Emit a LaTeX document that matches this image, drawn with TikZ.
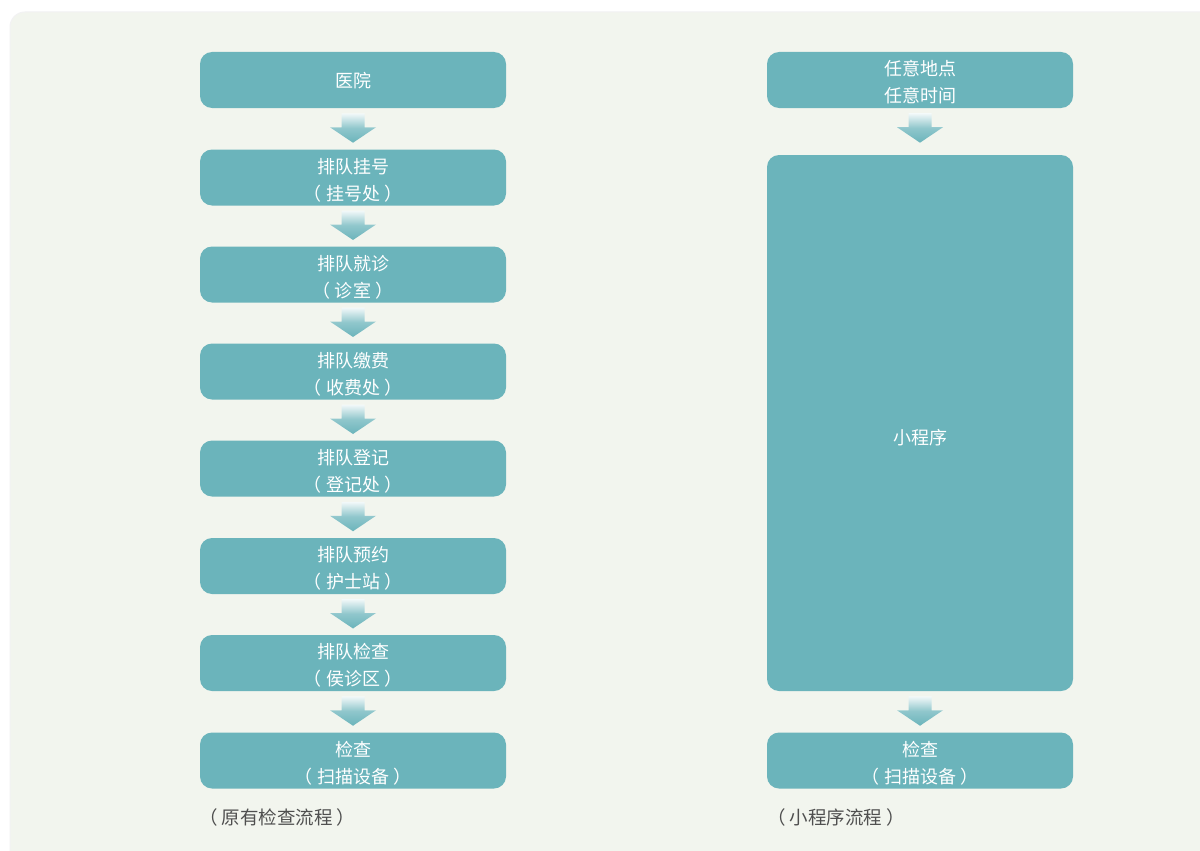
\documentclass[tikz,border=0pt]{standalone}
\usepackage{fontspec}
\newfontfamily\cjk{Noto Sans CJK SC}
\usetikzlibrary{calc}
\definecolor{tealbox}{HTML}{6BB4BB}
\definecolor{bgpanel}{HTML}{F2F5EE}
\definecolor{labgray}{HTML}{4F4F4F}
\newcommand\boxtext[2][-4pt]{\raisebox{#1}[\height][\depth]{\begin{tabular}{@{}c@{}}#2\end{tabular}}}
\tikzset{
  box/.style={fill=tealbox, rounded corners=12pt, minimum width=306pt, minimum height=56pt,
    text=white, font=\cjk\fontsize{18}{27}\selectfont, inner sep=0pt},
  caption/.style={text=labgray, font=\cjk\fontsize{18.5}{22}\selectfont, anchor=west, inner sep=0pt},
  darrow/.pic={
    \shade[top color=tealbox!8!white, bottom color=tealbox, middle color=tealbox!75!white]
      (-11.5,-15.5)--(11.5,-15.5)--(11.5,-1.5)--(23,-1.5)--(0,14)--(-23,-1.5)--(-11.5,-1.5)--cycle;
  }
}
\begin{document}
\begin{tikzpicture}[x=1pt,y=-1pt]
\useasboundingbox (0,0) rectangle (1200,851);
\fill[white] (0,0) rectangle (1200,851);
\fill[bgpanel, draw=blue!4!gray!10, line width=1pt, rounded corners=15pt] (10,12) rectangle (1230,880);

% left column
\node[box] (l1) at (353,80) {\boxtext[-2pt]{医院}};
\node[box] (l2) at (353,177.5) {\boxtext{排队挂号\\（ 挂号处 ）}};
\node[box] (l3) at (353,274.5) {\boxtext{排队就诊\\（ 诊室 ）}};
\node[box] (l4) at (353,371.5) {\boxtext{排队缴费\\（ 收费处 ）}};
\node[box] (l5) at (353,468.5) {\boxtext{排队登记\\（ 登记处 ）}};
\node[box] (l6) at (353,566) {\boxtext{排队预约\\（ 护士站 ）}};
\node[box] (l7) at (353,663) {\boxtext{排队检查\\（ 侯诊区 ）}};
\node[box] (l8) at (353,760.5) {\boxtext{检查\\（ 扫描设备 ）}};

\foreach \a/\b in {l1/l2,l2/l3,l3/l4,l4/l5,l5/l6,l6/l7,l7/l8}
  \path ($(\a.south)!0.5!(\b.north)$) pic{darrow};

% right column
\node[box] (r1) at (920,80) {\boxtext{任意地点\\任意时间}};
\node[box, minimum height=536pt] (r2) at (920,423) {\raisebox{-21pt}[0pt][0pt]{小程序}};
\node[box] (r3) at (920,760.5) {\boxtext{检查\\（ 扫描设备 ）}};

\path ($(r1.south)+(0,20.5)$) pic{darrow};
\path ($(r2.south)!0.5!(r3.north)$) pic{darrow};

% captions
\node[caption] (c1) at (199,817) {（ 原有检查流程 ）};
\node[caption] (c2) at (767,817) {（ 小程序流程 ）};
\end{tikzpicture}
\end{document}
